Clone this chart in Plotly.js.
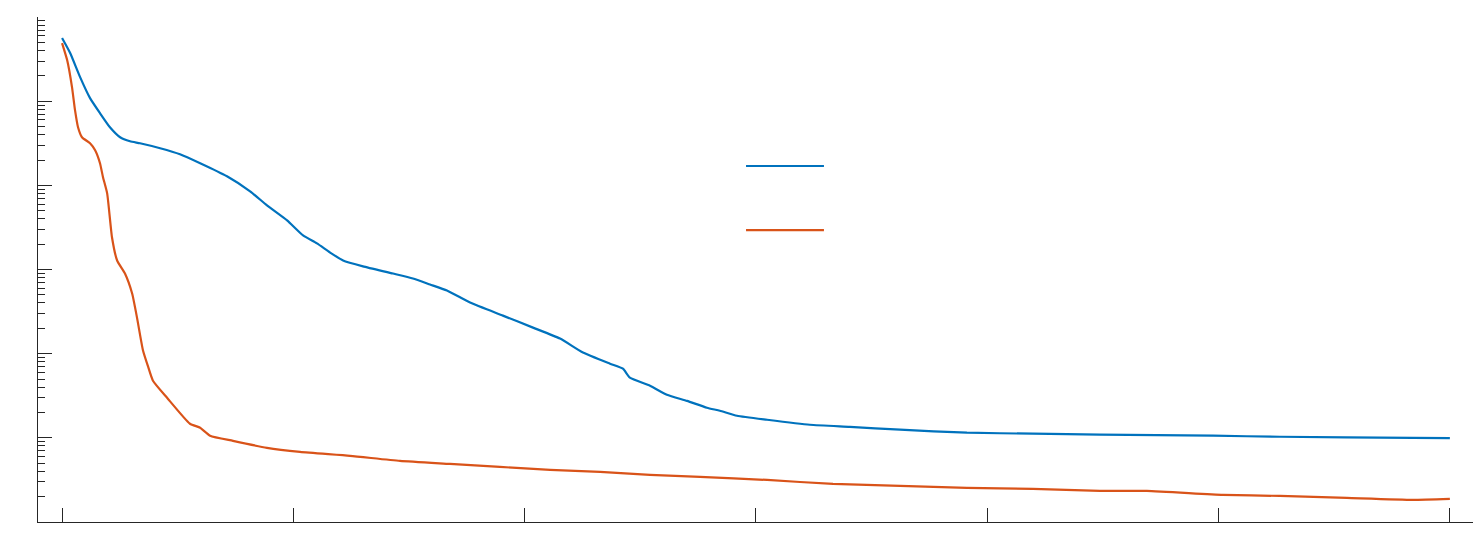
<!DOCTYPE html>
<html>
<head>
<meta charset="utf-8">
<script src="https://cdn.plot.ly/plotly-3.0.1.min.js"></script>
<style>
  html, body { margin: 0; padding: 0; background: #fff; }
  #chart { width: 1482px; height: 548px; }
</style>
</head>
<body>
<div id="chart"></div>
<script>
/* Convergence curves, log scale */

const blueIter = [0, 35, 78, 121, 164, 207, 251, 294, 337, 424, 510, 597, 713, 813, 886, 973,
  1042, 1102, 1159, 1215, 1301, 1431, 1517, 1591, 1664, 1764, 1906, 2036, 2153, 2252, 2369,
  2425, 2455, 2542, 2615, 2702, 2788, 2844, 2918, 3048, 3233, 3406, 3623, 3912, 4197, 4487,
  4976, 5265, 5840, 6000];
const blueVal = [0.562, 0.373, 0.193, 0.1086, 0.072, 0.049, 0.0373, 0.0334, 0.0316, 0.0276,
  0.0234, 0.0183, 0.0128, 0.00849, 0.00578, 0.00383, 0.00254, 0.00204, 0.00159, 0.00128,
  0.00109, 8.95e-4, 7.82e-4, 6.63e-4, 5.62e-4, 4.05e-4, 2.83e-4, 2.04e-4, 1.51e-4, 1.03e-4,
  7.6e-5, 6.63e-5, 5.18e-5, 4.16e-5, 3.25e-5, 2.75e-5, 2.28e-5, 2.1e-5, 1.83e-5, 1.64e-5,
  1.43e-5, 1.35e-5, 1.25e-5, 1.15e-5, 1.12e-5, 1.09e-5, 1.06e-5, 1.03e-5, 1.0e-5, 0.99e-5];

const orangeIter = [0, 22, 43, 56, 69, 86, 121, 143, 164, 177, 195, 216, 238, 272, 303, 324,
  350, 372, 393, 454, 553, 597, 640, 739, 886, 1029, 1245, 1461, 1677, 1893, 2110, 2326, 2542,
  2758, 3048, 3333, 3623, 3912, 4197, 4487, 4690, 5019, 5265, 5555, 5840, 6000];
const orangeVal = [0.49, 0.308, 0.147, 0.0781, 0.049, 0.0373, 0.0316, 0.0261, 0.0183, 0.0125,
  0.00803, 0.0024, 0.00128, 8.95e-4, 5.18e-4, 2.68e-4, 1.09e-4, 7.0e-5, 4.77e-5, 2.99e-5,
  1.47e-5, 1.32e-5, 1.06e-5, 9.2e-6, 7.6e-6, 6.81e-6, 6.11e-6, 5.32e-6, 4.9e-6, 4.52e-6,
  4.16e-6, 3.94e-6, 3.63e-6, 3.44e-6, 3.16e-6, 2.83e-6, 2.69e-6, 2.54e-6, 2.47e-6, 2.34e-6,
  2.34e-6, 2.1e-6, 2.04e-6, 1.93e-6, 1.83e-6, 1.88e-6];

const xTicks = [0, 1000, 2000, 3000, 4000, 5000, 6000];

const COLORS = {
  blue:   '#0072BD',
  orange: '#D95319',
  axis:   '#262626',
};

const traces = [
  {
    x: blueIter, y: blueVal,
    type: 'scatter', mode: 'lines',
    line: { color: COLORS.blue, width: 2.2, shape: 'spline', smoothing: 0.5 },
    showlegend: false,
  },
  {
    x: orangeIter, y: orangeVal,
    type: 'scatter', mode: 'lines',
    line: { color: COLORS.orange, width: 2.2, shape: 'spline', smoothing: 0.5 },
    showlegend: false,
  },
];

// legend samples (labels are empty in the source)
const legendLine = (y, color) => ({
  type: 'line', xref: 'paper', yref: 'paper',
  x0: 0.4934, x1: 0.5477, y0: y, y1: y,
  line: { color: color, width: 2.2 },
});

const layout = {
  width: 1482,
  height: 548,
  paper_bgcolor: '#fff',
  plot_bgcolor: '#fff',
  margin: { t: 17, r: 9, b: 26, l: 38 },
  showlegend: false,
  xaxis: {
    range: [-104, 6100],
    tickvals: xTicks,
    ticks: 'inside', ticklen: 14, tickwidth: 1, tickcolor: COLORS.axis,
    showticklabels: false,
    showgrid: false, zeroline: false,
    showline: true, linecolor: COLORS.axis, linewidth: 1,
  },
  yaxis: {
    type: 'log',
    range: [-6, 0],
    dtick: 1,
    ticks: 'inside', ticklen: 14, tickwidth: 1, tickcolor: COLORS.axis,
    minor: { ticks: 'inside', ticklen: 7, tickwidth: 1, tickcolor: COLORS.axis, showgrid: false },
    showticklabels: false,
    showgrid: false, zeroline: false,
    showline: true, linecolor: COLORS.axis, linewidth: 1,
  },
  shapes: [
    legendLine(0.705, COLORS.blue),
    legendLine(0.578, COLORS.orange),
  ],
};

Plotly.newPlot('chart', traces, layout, { displayModeBar: false, responsive: false });
</script>
</body>
</html>
